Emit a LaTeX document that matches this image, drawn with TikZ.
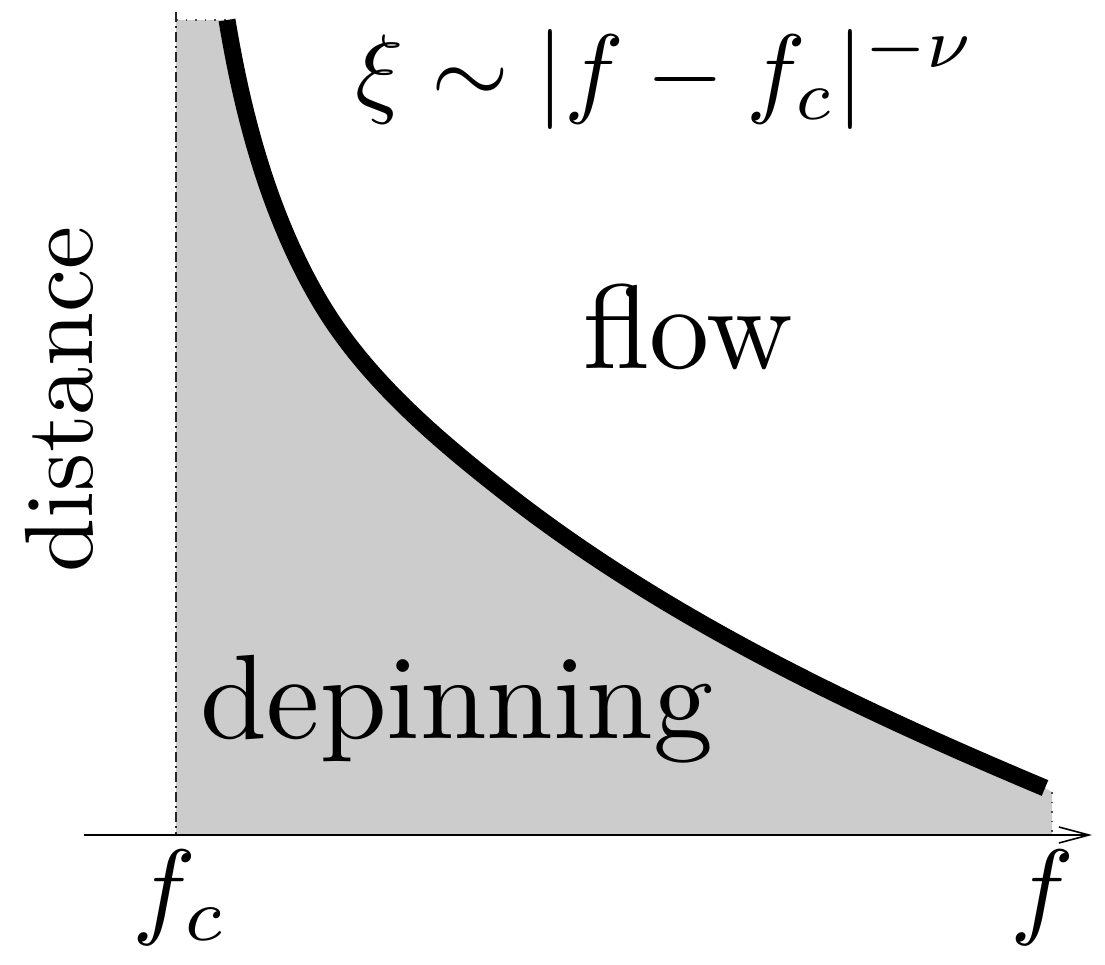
\documentclass[tikz,border=0pt]{standalone}
\usepackage{fontspec}
\usetikzlibrary{arrows.meta}
\begin{document}
\begin{tikzpicture}[x=0.5pt,y=-0.5pt,
  lbl/.style={inner sep=0pt, outer sep=0pt},
  curveline/.style={line width=8.5pt, line cap=butt},
  edgedot/.style={line width=0.8pt, dash pattern=on 0.8pt off 4pt, black!70},
  axisline/.style={line width=0.8pt, -{Straight Barb[length=15pt,width=8pt,line width=0.8pt]}}]
\useasboundingbox (0,0) rectangle (1105,965);
% region
\fill[black!20] (176,20) -- (227,20) .. controls (243,117) and (269.5,215.4) .. (319,300)
  .. controls (364.5,377.7) and (436,438.6) .. (507,494)
  .. controls (668,619.5) and (857,709) .. (1045,788)
  -- (1052,792) -- (1052,835) -- (176,835) -- cycle;
\coordinate (tl) at (176,20);
\coordinate (tc) at (227,20);
\coordinate (rt) at (1052,792);
\coordinate (rb) at (1052,835);
\coordinate (lb) at (176,835);
\coordinate (lt) at (176,12);
\draw[edgedot] (tl) -- (tc);
\draw[edgedot] (rt) -- (rb);
\draw[edgedot] (lb) -- (rb);
\draw[line width=1.1pt, dash pattern=on 5pt off 2pt on 1pt off 2pt, black!85] (lt) -- (lb);
% curve
\coordinate (c0) at (227,20);
\coordinate (c1) at (319,300);
\coordinate (c2) at (507,494);
\coordinate (c3) at (1045,788);
\draw[curveline] (c0) .. controls (243,117) and (269.5,215.4) .. (c1)
  .. controls (364.5,377.7) and (436,438.6) .. (c2)
  .. controls (668,619.5) and (857,709) .. (c3);
% axis
\coordinate (a0) at (84,835);
\coordinate (a1) at (1092,835);
\draw[axisline] (a0) -- (a1);
% labels
\node[lbl, scale=5, anchor=base] (law) at (666,104) {$\xi\sim|f-f_c|^{-\nu}$};
\node[lbl, scale=6, anchor=base west] (flow) at (583,368) {flow};
\node[lbl, scale=6, anchor=base west] (dep) at (200,738) {depinning};
\node[lbl, scale=4.85, anchor=base west, rotate=90] (dist) at (92,572) {distance};
\node[lbl, scale=5.35, anchor=base] (fc) at (180,924) {$f_c$};
\node[lbl, scale=5.35, anchor=base] (f) at (1042,924) {$f$};
\end{tikzpicture}
\end{document}
